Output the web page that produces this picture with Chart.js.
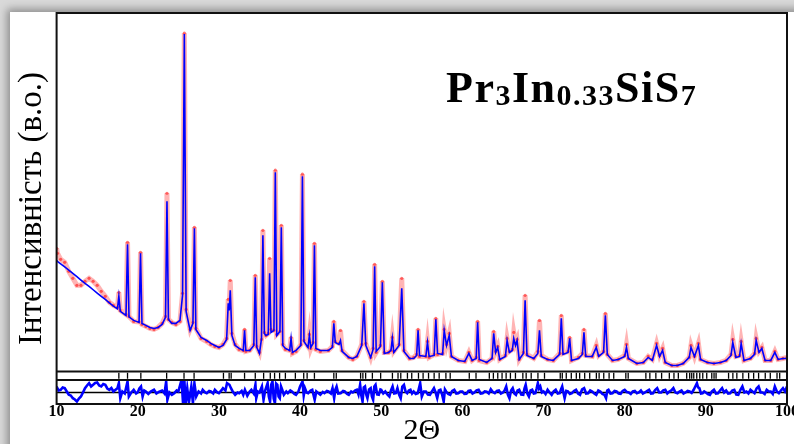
<!DOCTYPE html>
<html>
<head>
<meta charset="utf-8">
<script src="https://cdn.jsdelivr.net/npm/chart.js@4.4.0/dist/chart.umd.min.js"></script>
<style>
  html, body { margin: 0; padding: 0; }
  body { width: 794px; height: 444px; overflow: hidden; background: #d9d9d9; position: relative; }
  #sheet { position: absolute; left: 10px; top: 12px; width: 800px; height: 450px; background: #fff; box-shadow: 0 0 8px 3px rgba(0,0,0,0.35); }
  #wrap { position: absolute; left: 0; top: 0; width: 799px; height: 446px; }
  #formula { position: absolute; left: 446px; top: 66px; font-family: 'Liberation Serif', 'Times New Roman', serif; font-weight: bold; font-size: 44px; line-height: 44px; letter-spacing: 1.5px; color: #000; white-space: nowrap; }
  #formula span { font-size: 30px; vertical-align: -3px; }
</style>
</head>
<body>
<div id="sheet"></div>
<div id="wrap"><canvas id="xrd" width="799" height="446"></canvas></div>
<div id="formula">Pr<span>3</span>In<span>0.33</span>SiS<span>7</span></div>
<script>
// profil mesuré / calculé (2θ, intensité en u.a.)
const twoTheta = [
  10.00,10.10,10.50,11.00,11.50,12.00,12.50,13.00,13.50,14.00,14.50,15.00,15.50,16.00,16.50,17.00,17.50,17.67,17.85,18.55,18.74,18.92,19.50,
  20.16,20.34,20.52,21.00,21.50,22.00,22.50,23.00,23.42,23.60,23.78,24.20,24.70,25.20,25.52,25.74,25.96,26.45,26.80,26.98,27.16,27.80,28.50,29.00,29.50,
  30.00,30.50,30.95,31.15,31.27,31.40,31.60,32.00,32.50,33.00,33.16,33.32,33.80,34.30,34.48,34.66,35.00,35.25,35.42,35.60,35.80,36.08,36.25,36.42,36.78,36.95,37.13,37.52,37.69,37.87,38.20,38.72,38.89,39.06,39.50,
  40.10,40.29,40.48,40.98,41.15,41.32,41.60,41.77,41.95,42.50,43.50,43.98,44.16,44.34,44.80,44.98,45.18,46.00,46.50,47.00,47.60,47.87,48.10,48.70,49.00,49.19,49.38,49.90,
  50.14,50.38,50.90,51.20,51.37,51.55,52.20,52.53,52.80,53.50,54.00,54.36,54.54,54.72,55.50,55.70,55.90,56.52,56.73,56.94,57.56,57.76,58.05,58.38,58.65,59.50,
  60.30,60.80,61.20,61.70,61.88,62.08,63.00,63.66,63.86,64.10,64.35,64.60,65.30,65.51,65.80,66.15,66.33,66.55,66.74,67.00,67.52,67.73,67.96,68.80,69.30,69.50,69.72,
  70.50,71.20,71.98,72.19,72.40,73.02,73.22,73.45,74.30,74.78,74.98,75.20,76.00,76.50,76.80,77.40,77.62,77.86,78.50,79.20,
  80.00,80.22,80.45,81.50,82.30,82.90,83.40,83.93,84.30,84.67,85.00,85.80,86.50,87.20,87.95,88.17,88.60,89.08,89.35,
  90.20,91.00,91.80,92.50,93.10,93.32,93.70,94.15,94.35,94.70,95.50,96.00,96.20,96.55,96.90,97.30,98.00,98.50,98.90,99.50,100.00
];
const yCalc = [
  1110,1100,1075,1044,1012,980,947,913,880,850,816,783,751,720,686,652,625,750,600,560,1270,545,510,
  490,1180,480,460,440,430,440,470,540,1700,520,480,480,510,760,3370,600,410,480,1430,420,340,310,280,260,
  240,260,320,680,610,810,360,260,230,210,410,210,210,260,940,240,180,330,1360,380,360,370,980,390,410,1990,360,400,1440,260,230,210,330,190,210,
  260,1950,300,240,360,240,280,1260,230,210,210,240,480,290,270,310,200,140,130,150,260,680,260,140,220,1050,200,250,
  890,180,190,210,330,190,260,830,200,130,130,160,410,160,150,290,150,160,520,180,170,410,260,360,150,110,
  100,180,110,130,490,120,90,130,380,190,240,120,150,310,190,210,330,260,310,120,180,710,160,130,180,410,150,
  120,110,170,530,170,190,330,110,130,170,390,150,150,240,150,190,560,170,110,120,
  150,240,130,80,90,140,110,260,150,210,90,60,60,80,140,240,150,260,120,
  90,80,90,110,160,290,140,150,280,110,130,170,310,190,230,110,110,190,120,130,130
];
const yObs = [
  1230,1180,1120,1090,1000,930,860,860,900,930,900,860,800,750,690,660,640,790,610,570,1290,550,500,
  495,1190,470,450,430,420,440,480,550,1780,520,490,470,500,780,3380,620,420,490,1440,430,330,300,270,250,
  240,270,330,720,640,910,380,270,220,210,420,200,210,270,960,250,190,320,1410,390,360,380,1130,420,410,2010,370,400,1460,270,220,210,340,180,200,
  270,1970,310,250,370,230,290,1280,220,200,210,250,500,300,280,410,210,140,120,150,270,700,280,140,230,1070,190,260,
  900,190,190,210,340,200,270,930,210,130,140,170,420,150,150,300,140,170,530,170,180,420,270,380,150,110,
  100,190,110,140,500,110,90,130,400,200,250,120,160,330,200,220,390,280,320,120,190,760,170,130,200,510,160,
  120,110,180,560,180,200,340,110,140,180,420,160,150,260,160,200,580,170,110,120,
  160,270,130,80,90,150,120,280,160,230,90,60,60,80,140,260,150,280,120,
  90,80,90,110,170,320,150,160,300,110,130,180,330,200,240,110,110,200,120,130,140
];

// courbe différence Iobs - Icalc
const diffAngle = [
  10.0,10.25,10.5,10.75,11.0,11.25,11.5,11.75,12.0,12.25,12.5,12.75,13.0,13.25,13.5,13.75,14.0,14.25,14.5,14.75,15.0,15.25,15.5,15.75,16.0,16.25,16.5,16.75,17.0,17.3,17.5,17.67,17.85,18.1,18.4,18.74,18.9,19.2,19.5,19.8,
  20.0,20.2,20.4,20.6,20.8,21.0,21.3,21.6,22.0,22.3,22.6,23.0,23.3,23.5,23.65,23.9,24.2,24.5,24.8,25.0,25.4,25.58,25.74,25.9,26.1,26.3,26.6,26.8,26.98,27.2,27.5,27.8,28.0,28.3,28.5,28.8,29.0,29.3,29.5,29.8,
  30.0,30.3,30.5,30.8,31.0,31.3,31.5,31.7,32.0,32.3,32.5,32.8,33.0,33.2,33.5,33.8,34.0,34.3,34.5,34.6,34.8,35.0,35.3,35.5,35.7,36.0,36.15,36.3,36.45,36.6,36.75,36.9,37.05,37.2,37.35,37.5,37.65,37.8,38.0,38.3,38.5,38.8,39.0,39.3,39.5,39.8,
  40.0,40.3,40.45,40.6,40.8,41.0,41.3,41.5,41.8,42.0,42.3,42.5,42.8,43.0,43.3,43.5,43.8,44.0,44.2,44.35,44.5,44.7,45.0,45.3,45.5,45.8,46.0,46.3,46.5,46.8,47.0,47.2,47.4,47.55,47.7,47.85,48.0,48.15,48.3,48.5,48.7,48.85,49.0,49.15,49.3,49.5,49.7,49.9,
  50.0,50.25,50.5,50.75,51.0,51.2,51.4,51.6,51.8,52.0,52.2,52.4,52.6,52.8,53.0,53.2,53.4,53.6,53.8,54.0,54.25,54.5,54.8,55.0,55.25,55.5,55.75,56.0,56.25,56.5,56.7,56.9,57.1,57.3,57.5,57.7,57.85,58.0,58.25,58.5,58.75,59.0,59.25,59.5,59.75,
  60.0,60.25,60.5,60.75,61.0,61.25,61.5,61.75,62.0,62.25,62.5,62.75,63.0,63.25,63.5,63.75,64.0,64.25,64.5,64.75,65.0,65.2,65.4,65.6,65.8,66.0,66.2,66.4,66.6,66.8,67.0,67.25,67.5,67.65,67.8,68.0,68.2,68.4,68.6,68.8,69.0,69.15,69.3,69.45,69.6,69.8,
  70.0,70.25,70.5,70.75,71.0,71.25,71.5,71.75,72.0,72.15,72.3,72.45,72.6,72.8,73.0,73.25,73.5,73.75,74.0,74.25,74.5,74.75,75.0,75.25,75.5,75.75,76.0,76.25,76.5,76.75,77.0,77.25,77.5,77.7,77.85,78.0,78.25,78.5,78.75,79.0,79.25,79.5,79.75,
  80.0,80.25,80.5,80.75,81.0,81.25,81.5,81.75,82.0,82.25,82.5,82.75,83.0,83.25,83.5,83.75,84.0,84.25,84.5,84.75,85.0,85.25,85.5,85.75,86.0,86.25,86.5,86.75,87.0,87.25,87.5,87.75,88.0,88.25,88.5,88.7,88.9,89.05,89.2,89.4,89.6,89.8,
  90.0,90.25,90.5,90.75,91.0,91.25,91.5,91.75,92.0,92.25,92.5,92.75,93.0,93.25,93.5,93.75,94.0,94.25,94.5,94.75,95.0,95.25,95.5,95.75,96.0,96.25,96.5,96.75,97.0,97.25,97.5,97.75,98.0,98.25,98.5,98.75,99.0,99.25,99.5,99.75,100.0
];
const diffValue = [
  60,20,27,50,43,10,-23,-30,-57,-70,-90,-60,-40,0,43,70,93,60,77,95,100,70,60,85,77,40,27,45,10,30,43,93,-57,10,-10,110,-40,0,27,-10,
  0,40,60,-40,20,10,-15,10,27,-10,5,20,-10,110,-73,0,-23,-7,20,10,127,-107,127,-107,40,-100,60,-107,93,-40,10,-10,27,0,-7,15,10,-10,27,0,
  -7,20,43,20,93,77,40,10,-23,0,-7,15,-23,27,-33,10,27,-10,77,-57,10,0,60,-73,20,93,-40,-90,80,110,-60,-107,90,77,-40,-57,60,27,-23,10,-7,20,10,-15,-23,10,
  60,110,-30,43,0,-7,20,27,-73,10,-10,-23,5,-7,15,10,-10,43,-57,30,60,-10,-7,15,10,-15,-23,10,0,20,27,-20,77,-30,-90,50,60,-20,-57,30,43,-40,-73,60,77,-20,-23,30,
  27,-10,10,-20,-40,20,60,-10,-7,43,-20,-57,60,77,10,-7,20,27,-10,10,-15,-7,93,-40,10,10,-20,-23,10,43,0,-57,20,27,-20,-90,30,10,-15,-23,15,27,-10,-7,10,
  10,-15,-13,15,20,-10,0,20,27,-10,-7,10,7,-10,33,5,-7,15,20,-10,0,20,60,-20,-57,20,43,-10,-23,20,27,-20,-23,40,77,-10,-40,20,27,-10,-7,40,93,40,60,0,
  10,-15,27,0,-23,10,27,-10,-7,30,60,0,-57,15,10,-15,-7,15,27,-10,-23,30,43,-10,-7,20,10,-10,-23,20,10,-15,-23,-57,20,27,-10,-7,15,10,-10,-13,15,
  27,5,0,-15,10,15,-7,0,20,-10,0,15,27,-10,-7,25,43,0,0,20,27,-10,10,20,43,0,-7,10,20,-10,0,15,10,-5,27,60,93,50,43,-10,-7,10,
  0,-15,-23,10,27,-10,-7,20,43,0,20,-10,-7,20,27,-20,-23,25,60,0,10,-10,27,10,-7,40,60,0,0,-15,27,10,10,-15,60,10,-7,20,43,10,60
];

// positions des réflexions (traits verticaux)
const braggPositions = [
  17.67,18.74,20.38,23.56,25.70,26.94,30.56,31.26,31.51,33.16,34.48,35.51,36.33,36.86,37.48,38.19,39.42,40.45,40.87,41.77,
  44.16,44.46,47.46,47.74,48.08,48.91,49.93,51.38,52.07,52.41,53.23,53.76,54.59,55.16,55.83,56.52,57.14,57.97,58.50,60.85,
  61.68,63.32,63.82,64.36,64.89,65.39,65.92,66.54,67.45,67.86,68.48,69.31,70.12,72.06,72.31,72.80,73.42,74.04,74.45,75.07,
  75.69,76.51,76.85,77.42,78.08,78.65,80.14,80.43,82.61,83.10,83.84,84.55,85.50,86.07,86.61,87.64,88.01,88.26,88.51,88.88,
  89.25,89.62,90.11,90.73,91.01,91.26,92.80,93.33,93.82,94.56,95.27,95.89,96.50,97.32,97.94,98.77,99.10
];

function toPoints(xs, ys) {
  return xs.map((x, i) => ({ x: x, y: ys[i] }));
}

const serif = 'Liberation Serif';

// cadre noir + ligne zéro de la différence
const framePlugin = {
  id: 'frame',
  beforeDatasetsDraw(chart) {
    const { ctx, chartArea, scales } = chart;
    const y0 = scales.yd.getPixelForValue(0);
    ctx.save();
    ctx.strokeStyle = '#000';
    ctx.lineWidth = 1.5;
    ctx.beginPath();
    ctx.moveTo(chartArea.left, y0);
    ctx.lineTo(chartArea.right, y0);
    ctx.stroke();
    ctx.restore();
  },
  afterDatasetsDraw(chart) {
    const { ctx, chartArea, scales } = chart;
    ctx.save();
    ctx.strokeStyle = '#111';
    ctx.lineWidth = 2;
    ctx.strokeRect(chartArea.left, chartArea.top, chartArea.right - chartArea.left, chartArea.bottom - chartArea.top);
    [scales.y.bottom, scales.yt.bottom].forEach(py => {
      ctx.beginPath();
      ctx.moveTo(chartArea.left, py);
      ctx.lineTo(chartArea.right, py);
      ctx.stroke();
    });
    ctx.restore();
  }
};

const hidden = {
  ticks: { display: false },
  grid: { display: false, drawTicks: false },
  border: { display: false }
};

new Chart(document.getElementById('xrd'), {
  type: 'line',
  data: {
    datasets: [
      {
        label: 'Icalc',
        data: toPoints(twoTheta, yCalc),
        yAxisID: 'y',
        borderColor: '#0000ff',
        borderWidth: 1.6,
        pointRadius: 0
      },
      {
        label: 'Iobs',
        data: toPoints(twoTheta, yObs),
        yAxisID: 'y',
        borderColor: 'rgba(255, 40, 40, 0.35)',
        borderWidth: 5,
        pointRadius: 1.6,
        pointBorderWidth: 0,
        pointBackgroundColor: 'rgba(255, 0, 0, 0.55)'
      },
      {
        label: 'Iobs-Icalc',
        data: toPoints(diffAngle, diffValue),
        yAxisID: 'yd',
        borderColor: '#0000ff',
        borderWidth: 2.6,
        pointRadius: 0
      },
      {
        label: 'hkl',
        type: 'scatter',
        data: braggPositions.map(p => ({ x: p, y: 0.5 })),
        yAxisID: 'yt',
        pointStyle: 'line',
        pointRotation: 90,
        pointRadius: 3,
        pointBorderColor: '#000',
        pointBorderWidth: 1.3
      }
    ]
  },
  options: {
    responsive: false,
    animation: false,
    layout: { padding: { left: 9, right: 4, top: 13, bottom: 0 }, autoPadding: false },
    plugins: { legend: { display: false }, tooltip: { enabled: false } },
    scales: {
      x: {
        type: 'linear',
        min: 10,
        max: 100,
        ticks: { stepSize: 10, padding: 0, color: '#000', font: { family: serif, weight: 'bold', size: 16, lineHeight: 1 } },
        grid: { display: false, drawTicks: false },
        border: { display: false },
        title: { display: true, text: '2Θ', color: '#000', font: { family: serif, size: 30, lineHeight: 1 }, padding: { top: -4, bottom: 0 } }
      },
      yLabel: {
        ...hidden,
        position: 'left',
        weight: 10,
        min: 0,
        max: 1,
        title: { display: true, text: 'Інтенсивність (в.о.)', color: '#000', font: { family: serif, size: 33, lineHeight: 1.2 }, padding: { top: 4, bottom: 4 } }
      },
      y: { ...hidden, position: 'left', stack: 'xrd', stackWeight: 358, weight: 3, min: 0, max: 3580 },
      yt: { ...hidden, position: 'left', stack: 'xrd', stackWeight: 8.5, weight: 2, min: 0, max: 1 },
      yd: { ...hidden, position: 'left', stack: 'xrd', stackWeight: 24, weight: 1, min: -115, max: 125 }
    }
  },
  plugins: [framePlugin]
});
</script>
</body>
</html>
